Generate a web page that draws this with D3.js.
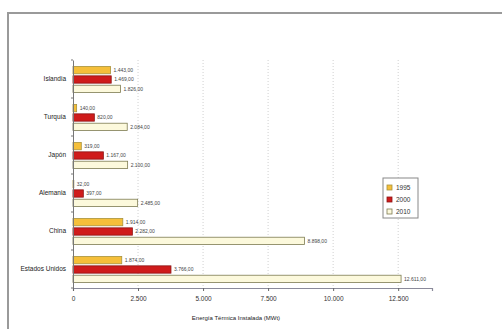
<!DOCTYPE html>
<html>
<head>
<meta charset="utf-8">
<script src="https://cdn.jsdelivr.net/npm/d3@7"></script>
<style>
  body { margin: 0; background: #fff; }
  text { font-family: "Liberation Sans", Arial, sans-serif; }
</style>
</head>
<body>
<script>
const width = 502;
const height = 329;

// data (MWt), top to bottom
const countries = ["Islandia", "Turquía", "Japón", "Alemania", "China", "Estados Unidos"];
const years = ["1995", "2000", "2010"];
const v1995 = [1443, 140, 319, 32, 1914, 1874];
const v2000 = [1469, 820, 1167, 397, 2282, 3766];
const v2010 = [1826, 2084, 2100, 2485, 8898, 12611];
const xTicks = [0, 2500, 5000, 7500, 10000, 12500];
const xTickLabels = ["0", "2.500", "5.000", "7.500", "10.000", "12.500"];

const fills = { "1995": "#f5bf3a", "2000": "#cf1b1b", "2010": "#fcf9dc" };
const strokes = { "1995": "#a8923c", "2000": "#8c1414", "2010": "#7d7b52" };

const rows = countries.map((c, i) => ({
  country: c,
  vals: [
    { year: "1995", v: v1995[i] },
    { year: "2000", v: v2000[i] },
    { year: "2010", v: v2010[i] }
  ]
}));

const fmt = d3.formatLocale({ decimal: ",", thousands: ".", grouping: [3], currency: ["", ""] }).format(",.2f");

const svg = d3.select("body").append("svg")
  .attr("width", width)
  .attr("height", height);

// outer frame
svg.append("rect")
  .attr("x", 8).attr("y", 13)
  .attr("width", 500).attr("height", 330)
  .attr("fill", "none")
  .attr("stroke", "#9a9a9a")
  .attr("stroke-width", 2);

let x = d3.scaleLinear()
  .domain([0, 13800])
  .range([73, 432]);

let y = d3.scaleBand()
  .domain(countries)
  .range([60, 288]);

let yInner = d3.scaleBand()
  .domain(years)
  .range([6, y.bandwidth() - 5])
  .paddingInner(0.22)
  .paddingOuter(0.05);

// grid
svg.append("g")
  .selectAll("line")
  .data(xTicks.slice(1))
  .enter()
  .append("line")
  .attr("x1", d => x(d)).attr("x2", d => x(d))
  .attr("y1", 60).attr("y2", 288)
  .attr("stroke", "#d0d0d0")
  .attr("stroke-dasharray", "1,2");

// bars
let groups = svg.append("g")
  .selectAll("g")
  .data(rows)
  .enter()
  .append("g")
  .attr("transform", d => `translate(0,${y(d.country)})`);

groups.selectAll("rect")
  .data(d => d.vals)
  .enter()
  .append("rect")
  .attr("x", x(0))
  .attr("y", d => yInner(d.year))
  .attr("width", d => x(d.v) - x(0))
  .attr("height", yInner.bandwidth())
  .attr("fill", d => fills[d.year])
  .attr("stroke", d => strokes[d.year])
  .attr("stroke-width", 0.8);

groups.selectAll("text")
  .data(d => d.vals)
  .enter()
  .append("text")
  .attr("x", d => x(d.v) + 3)
  .attr("y", d => yInner(d.year) + yInner.bandwidth() / 2)
  .attr("dy", "0.35em")
  .attr("font-size", 5)
  .attr("fill", "#444")
  .text(d => fmt(d.v));

// x axis
let xAxis = svg.append("g")
  .attr("transform", "translate(0,288)")
  .call(d3.axisBottom(x).tickValues(xTicks).tickSize(3).tickFormat((d, i) => xTickLabels[i]));
xAxis.select(".domain").attr("stroke", "#8a8a9a").attr("stroke-width", 1.2);
xAxis.selectAll(".tick line").attr("stroke", "#666");
xAxis.selectAll("text").attr("font-size", 6.5).attr("fill", "#333").attr("dy", "1.05em");

// y axis
let yAxis = svg.append("g")
  .attr("transform", "translate(73,0)")
  .call(d3.axisLeft(y).tickSize(0).tickPadding(7));
yAxis.select(".domain").attr("stroke", "#777");
yAxis.selectAll("text").attr("font-size", 6.5).attr("fill", "#222");
svg.append("g")
  .selectAll("line")
  .data(countries.concat(["end"]))
  .enter()
  .append("line")
  .attr("x1", 71).attr("x2", 73)
  .attr("y1", (d, i) => 60 + i * y.step())
  .attr("y2", (d, i) => 60 + i * y.step())
  .attr("stroke", "#777");

// axis title
svg.append("text")
  .attr("x", 236).attr("y", 320)
  .attr("text-anchor", "middle")
  .attr("font-size", 6)
  .attr("fill", "#222")
  .text("Energía Térmica Instalada (MWt)");

// legend
let legend = svg.append("g").attr("transform", "translate(383,178)");
legend.append("rect")
  .attr("width", 35).attr("height", 40)
  .attr("fill", "#fff")
  .attr("stroke", "#888");
let items = legend.selectAll(".item")
  .data(years)
  .enter()
  .append("g")
  .attr("class", "item")
  .attr("transform", (d, i) => `translate(4,${7 + i * 12})`);
items.append("rect")
  .attr("width", 5).attr("height", 5)
  .attr("fill", d => fills[d])
  .attr("stroke", d => strokes[d])
  .attr("stroke-width", 0.8);
items.append("text")
  .attr("x", 9).attr("y", 2.5)
  .attr("dy", "0.35em")
  .attr("font-size", 6.5)
  .attr("fill", "#333")
  .text(d => d);
</script>
</body>
</html>
